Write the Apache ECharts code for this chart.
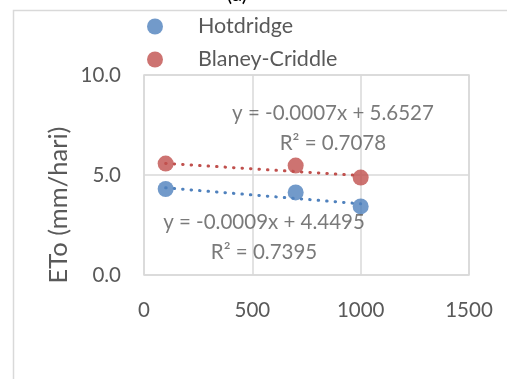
<!DOCTYPE html>
<html>
<head>
<meta charset="utf-8">
<script src="https://cdn.jsdelivr.net/npm/echarts@6/dist/echarts.min.js"></script>
<style>
html, body { margin: 0; padding: 0; background: #fff; }
#main { width: 507px; height: 379px; }
</style>
</head>
<body>
<div id="main"></div>
<script>
// data
var elev = [100, 700, 1000];
var hotdridge = [4.30, 4.13, 3.43];
var blaney = [5.57, 5.47, 4.87];
// trend line ends (x = 100 and x = 1000)
var trendX = [100, 1000];
var hotTrend = [4.36, 3.56];
var blaTrend = [5.58, 4.97];
var hotEq = ["y = -0.0009x + 4.4495", "R² = 0.7395"];
var blaEq = ["y = -0.0007x + 5.6527", "R² = 0.7078"];
var hotEqPos = [554, 1.88];
var blaEqPos = [872, 7.33];

var FONT = "Lato";
var GREY = "#595959";
var BLUE = "#4f81bd";
var RED = "#c0504d";

function pairs(xs, ys) {
    var out = [];
    for (var i = 0; i < xs.length; i++) {
        out.push([xs[i], ys[i]]);
    }
    return out;
}

var myChart = echarts.init(document.getElementById("main"), null, { renderer: 'canvas' });

function eqSeries(pos, lines) {
    return {
        type: 'scatter',
        silent: true,
        symbolSize: 1,
        itemStyle: { color: 'rgba(0,0,0,0)' },
        data: [pos],
        z: 5,
        label: {
            show: true,
            position: 'inside',
            formatter: lines.join("\n"),
            color: GREY,
            fontFamily: FONT,
            fontSize: 20.5,
            lineHeight: 30,
            align: 'center',
            verticalAlign: 'middle'
        }
    };
}

var option = {
    animation: false,
    textStyle: { fontFamily: FONT },
    grid: { left: 144, right: 38, top: 75, bottom: 104 },
    legend: {
        data: ['Hotdridge', 'Blaney-Criddle'],
        orient: 'vertical',
        left: 147,
        top: 15,
        padding: 0,
        itemWidth: 76,
        itemHeight: 16,
        itemGap: 10,
        icon: 'circle',
        textStyle: { color: GREY, fontFamily: FONT, fontSize: 21.5, lineHeight: 23 }
    },
    xAxis: {
        type: 'value',
        min: 0,
        max: 1500,
        interval: 500,
        axisLine: { show: false },
        axisTick: { show: false },
        axisLabel: {
            color: GREY, fontFamily: FONT, fontSize: 20.5, margin: 25,
            formatter: function (v) { return String(v); }
        },
        splitLine: { show: true, lineStyle: { color: '#d9d9d9', width: 1.5 } }
    },
    yAxis: {
        type: 'value',
        min: 0,
        max: 10,
        interval: 5,
        axisLine: { show: false },
        axisTick: { show: false },
        axisLabel: {
            color: GREY, fontFamily: FONT, fontSize: 20.5, margin: 23,
            formatter: function (v) { return v.toFixed(1); }
        },
        splitLine: { show: true, lineStyle: { color: '#d9d9d9', width: 1.5 } }
    },
    graphic: [
        {
            type: 'rect',
            silent: true,
            shape: { x: 13.5, y: 10.5, width: 600, height: 500 },
            style: { fill: null, stroke: '#d9d9d9', lineWidth: 1.5 }
        },
        {
            type: 'rect',
            silent: true,
            shape: { x: 144, y: 75, width: 325, height: 200 },
            style: { fill: null, stroke: '#d9d9d9', lineWidth: 1.5 }
        },
        {
            type: 'text',
            silent: true,
            x: 237, y: 5,
            style: {
                text: '(a)', fill: '#000', fontFamily: FONT, fontSize: 21,
                textAlign: 'center', textVerticalAlign: 'bottom'
            }
        },
        {
            type: 'text',
            silent: true,
            x: 59, y: 205,
            rotation: Math.PI / 2,
            style: {
                text: 'ETo (mm/hari)', fill: GREY, fontFamily: FONT, fontSize: 25.5,
                textAlign: 'center', textVerticalAlign: 'middle'
            }
        }
    ],
    series: [
        {
            name: 'Hotdridge trend',
            type: 'line',
            silent: true,
            showSymbol: false,
            symbol: 'none',
            data: pairs(trendX, hotTrend),
            lineStyle: { color: BLUE, width: 3, type: [0.5, 8], cap: 'round' },
            z: 2
        },
        {
            name: 'Blaney-Criddle trend',
            type: 'line',
            silent: true,
            showSymbol: false,
            symbol: 'none',
            data: pairs(trendX, blaTrend),
            lineStyle: { color: RED, width: 3, type: [0.5, 8], cap: 'round' },
            z: 2
        },
        {
            name: 'Hotdridge',
            type: 'scatter',
            symbolSize: 16,
            itemStyle: { color: BLUE },
            data: pairs(elev, hotdridge),
            z: 3
        },
        {
            name: 'Blaney-Criddle',
            type: 'scatter',
            symbolSize: 16,
            itemStyle: { color: RED },
            data: pairs(elev, blaney),
            z: 3
        },
        eqSeries(blaEqPos, blaEq),
        eqSeries(hotEqPos, hotEq)
    ]
};

myChart.setOption(option);
</script>
</body>
</html>
